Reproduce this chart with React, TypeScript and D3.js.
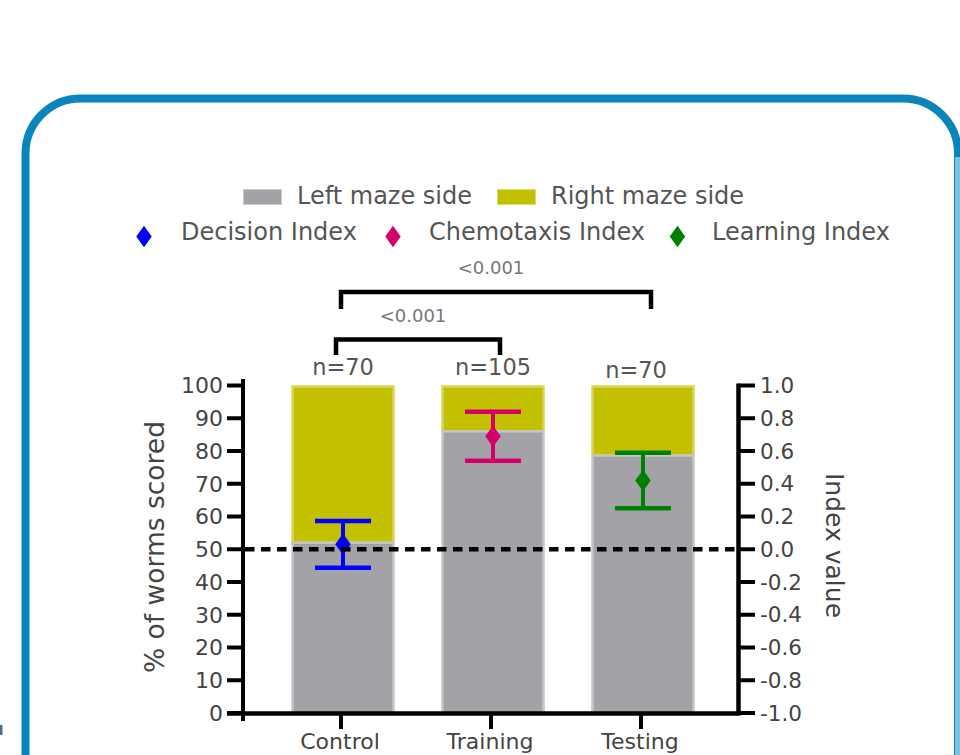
import React from "react";
import * as d3 from "d3";

const categories = ["Control", "Training", "Testing"];
const sampleSizes = ["n=70", "n=105", "n=70"];
const leftMazePct = [52, 86, 78.6];
const indexNames = ["Decision Index", "Chemotaxis Index", "Learning Index"];
const indexMeans = [0.03, 0.69, 0.42];
const indexErrors = [0.143, 0.15, 0.17];
const indexColors = ["#0000ff", "#d4006a", "#008000"];
const leftTicks = [0, 10, 20, 30, 40, 50, 60, 70, 80, 90, 100];
const rightTicks = [-1, -0.8, -0.6, -0.4, -0.2, 0, 0.2, 0.4, 0.6, 0.8, 1];
const sigFrom = [0, 0];
const sigTo = [1, 2];
const sigLabels = ["<0.001", "<0.001"];
const mazeSides = ["Left maze side", "Right maze side"];
const mazeColors = ["#a3a2a7", "#c2c000"];

const FONT = "DejaVu Sans, Verdana, sans-serif";

function fmtRight(v: number) {
  const s = Math.abs(v).toFixed(1);
  return v < -1e-9 ? "-" + s : s;
}

// wide diamond marker (GraphPad-like)
const wideDiamond = {
  draw(ctx: any, size: number) {
    const h = Math.sqrt(size) * 0.85;
    const w = h * 0.72;
    ctx.moveTo(0, -h);
    ctx.lineTo(w, 0);
    ctx.lineTo(0, h);
    ctx.lineTo(-w, 0);
    ctx.closePath();
  },
};

export default function App() {
  const x = d3.scalePoint<string>().domain(categories).range([343, 643]);
  const yL = d3.scaleLinear().domain([0, 100]).range([713, 385.5]);
  const yR = d3.scaleLinear().domain([-1, 1]).range([713, 385.5]);
  const barW = 103;
  const capW = 56;
  const diamond = d3.symbol().type(wideDiamond as any).size(160)() as string;

  const axisL = 243;
  const axisR = 738.5;

  const bracketTop = [339.5, 292];
  const bracketBottom = [355, 309];
  const bracketLeftOff = [-7, -2];
  const bracketRightOff = [7, 8];

  const legendSwatchX = [243, 497];
  const legendTextX = [297, 551];
  const legendMarkX = [144, 393, 677.5];
  const legendIdxTextX = [181, 429, 712];

  return (
    <svg
      width={960}
      height={755}
      style={{ position: "absolute", left: 0, top: 0, background: "#fff" }}
      fontFamily={FONT}
    >
      {/* frame */}
      <rect x={25.5} y={98.5} width={932.5} height={760} rx={55} ry={55} fill="none" stroke="#0a85bc" strokeWidth={8} />
      <line x1={957.5} x2={957.5} y1={157} y2={755} stroke="#7fbfe0" strokeWidth={5} />
      <rect x={0} y={725} width={2.5} height={10} fill="#4a6f96" />

      {/* legend row 1 */}
      {mazeSides.map((s, i) => (
        <g key={s}>
          <rect x={legendSwatchX[i]} y={189} width={39} height={16} fill={mazeColors[i]} stroke="rgba(255,255,255,0.45)" strokeWidth={2} />
          <text x={legendTextX[i]} y={204} fontSize={24} fill="#555">{s}</text>
        </g>
      ))}
      {/* legend row 2 */}
      {indexNames.map((s, i) => (
        <g key={s}>
          <path d={diamond} transform={`translate(${legendMarkX[i]},236.5)`} fill={indexColors[i]} />
          <text x={legendIdxTextX[i]} y={240} fontSize={24} fill="#555">{s}</text>
        </g>
      ))}

      {/* bars */}
      {categories.map((c, i) => {
        const cx = x(c)!;
        return (
          <g key={c}>
            <rect x={cx - barW / 2 + 1} y={yL(100) + 1} width={barW - 2} height={yL(leftMazePct[i]) - yL(100) - 1} fill={mazeColors[1]} stroke="#d6d65a" strokeWidth={2.5} />
            <rect x={cx - barW / 2 + 1} y={yL(leftMazePct[i])} width={barW - 2} height={yL(0) - yL(leftMazePct[i])} fill={mazeColors[0]} stroke="#c6c6c9" strokeWidth={2.5} />
            <rect x={cx - barW / 2 + 4} y={yL(leftMazePct[i]) + 2} width={barW - 8} height={yL(0) - yL(leftMazePct[i])} fill={mazeColors[0]} />
          </g>
        );
      })}

      {/* index error bars */}
      {categories.map((c, i) => {
        const cx = x(c)!;
        const yt = yR(indexMeans[i] + indexErrors[i]);
        const yb = yR(indexMeans[i] - indexErrors[i]);
        const col = indexColors[i];
        return (
          <g key={"e" + c} stroke={col}>
            <line x1={cx} x2={cx} y1={yt} y2={yb} strokeWidth={4} />
            <line x1={cx - capW / 2} x2={cx + capW / 2} y1={yt} y2={yt} strokeWidth={4.5} />
            <line x1={cx - capW / 2} x2={cx + capW / 2} y1={yb} y2={yb} strokeWidth={4.5} />
            <path d={diamond} transform={`translate(${cx},${yR(indexMeans[i])})`} fill={col} stroke="none" />
          </g>
        );
      })}

      {/* dashed zero line */}
      <line x1={axisL + 2} x2={axisR} y1={yR(0)} y2={yR(0)} stroke="#000" strokeWidth={4.5} strokeDasharray="9.5,6.5" />

      {/* left axis */}
      <line x1={axisL} x2={axisL} y1={379} y2={721} stroke="#000" strokeWidth={4} />
      {leftTicks.map((t) => (
        <g key={"l" + t}>
          <line x1={227} x2={axisL} y1={yL(t)} y2={yL(t)} stroke="#000" strokeWidth={4} />
          <text x={223} y={yL(t)} dy="0.36em" textAnchor="end" fontSize={22} fill="#444">{t}</text>
        </g>
      ))}
      <text transform={`translate(164,547) rotate(-90)`} textAnchor="middle" fontSize={26.5} fill="#444">% of worms scored</text>

      {/* right axis */}
      <line x1={axisR} x2={axisR} y1={yR(1) - 2} y2={yR(-1) + 2} stroke="#000" strokeWidth={4.5} />
      {rightTicks.map((t) => (
        <g key={"r" + t}>
          <line x1={axisR} x2={755} y1={yR(t)} y2={yR(t)} stroke="#000" strokeWidth={4} />
          <text x={760} y={yR(t)} dy="0.36em" textAnchor="start" fontSize={21.5} fill="#444">{fmtRight(t)}</text>
        </g>
      ))}
      <text transform={`translate(826,545.5) rotate(90)`} textAnchor="middle" fontSize={25} fill="#444">Index value</text>

      {/* x axis */}
      <line x1={227} x2={axisR + 2} y1={713.5} y2={713.5} stroke="#000" strokeWidth={4.5} />
      {categories.map((c) => (
        <g key={"x" + c}>
          <line x1={x(c)! - 2} x2={x(c)! - 2} y1={713} y2={729} stroke="#000" strokeWidth={4} />
          <text x={x(c)! - 3} y={749} textAnchor="middle" fontSize={22} fill="#444">{c}</text>
        </g>
      ))}

      {/* n labels */}
      {categories.map((c, i) => (
        <text key={"n" + c} x={x(c)! - (i === 2 ? 7 : 0)} y={375 + (i === 2 ? 3 : 0)} textAnchor="middle" fontSize={22.5} fill="#555">{sampleSizes[i]}</text>
      ))}

      {/* significance brackets */}
      {sigFrom.map((f, k) => {
        const x1 = x(categories[f])! + bracketLeftOff[k];
        const x2 = x(categories[sigTo[k]])! + bracketRightOff[k];
        const yt = bracketTop[k];
        const yb = bracketBottom[k];
        return (
          <g key={"s" + k}>
            <path d={`M${x1},${yb}V${yt}H${x2}V${yb}`} fill="none" stroke="#000" strokeWidth={4.5} />
            <text x={(x1 + x2) / 2 - 5} y={yt - 18} textAnchor="middle" fontSize={18} fill="#777">{sigLabels[k]}</text>
          </g>
        );
      })}
    </svg>
  );
}
